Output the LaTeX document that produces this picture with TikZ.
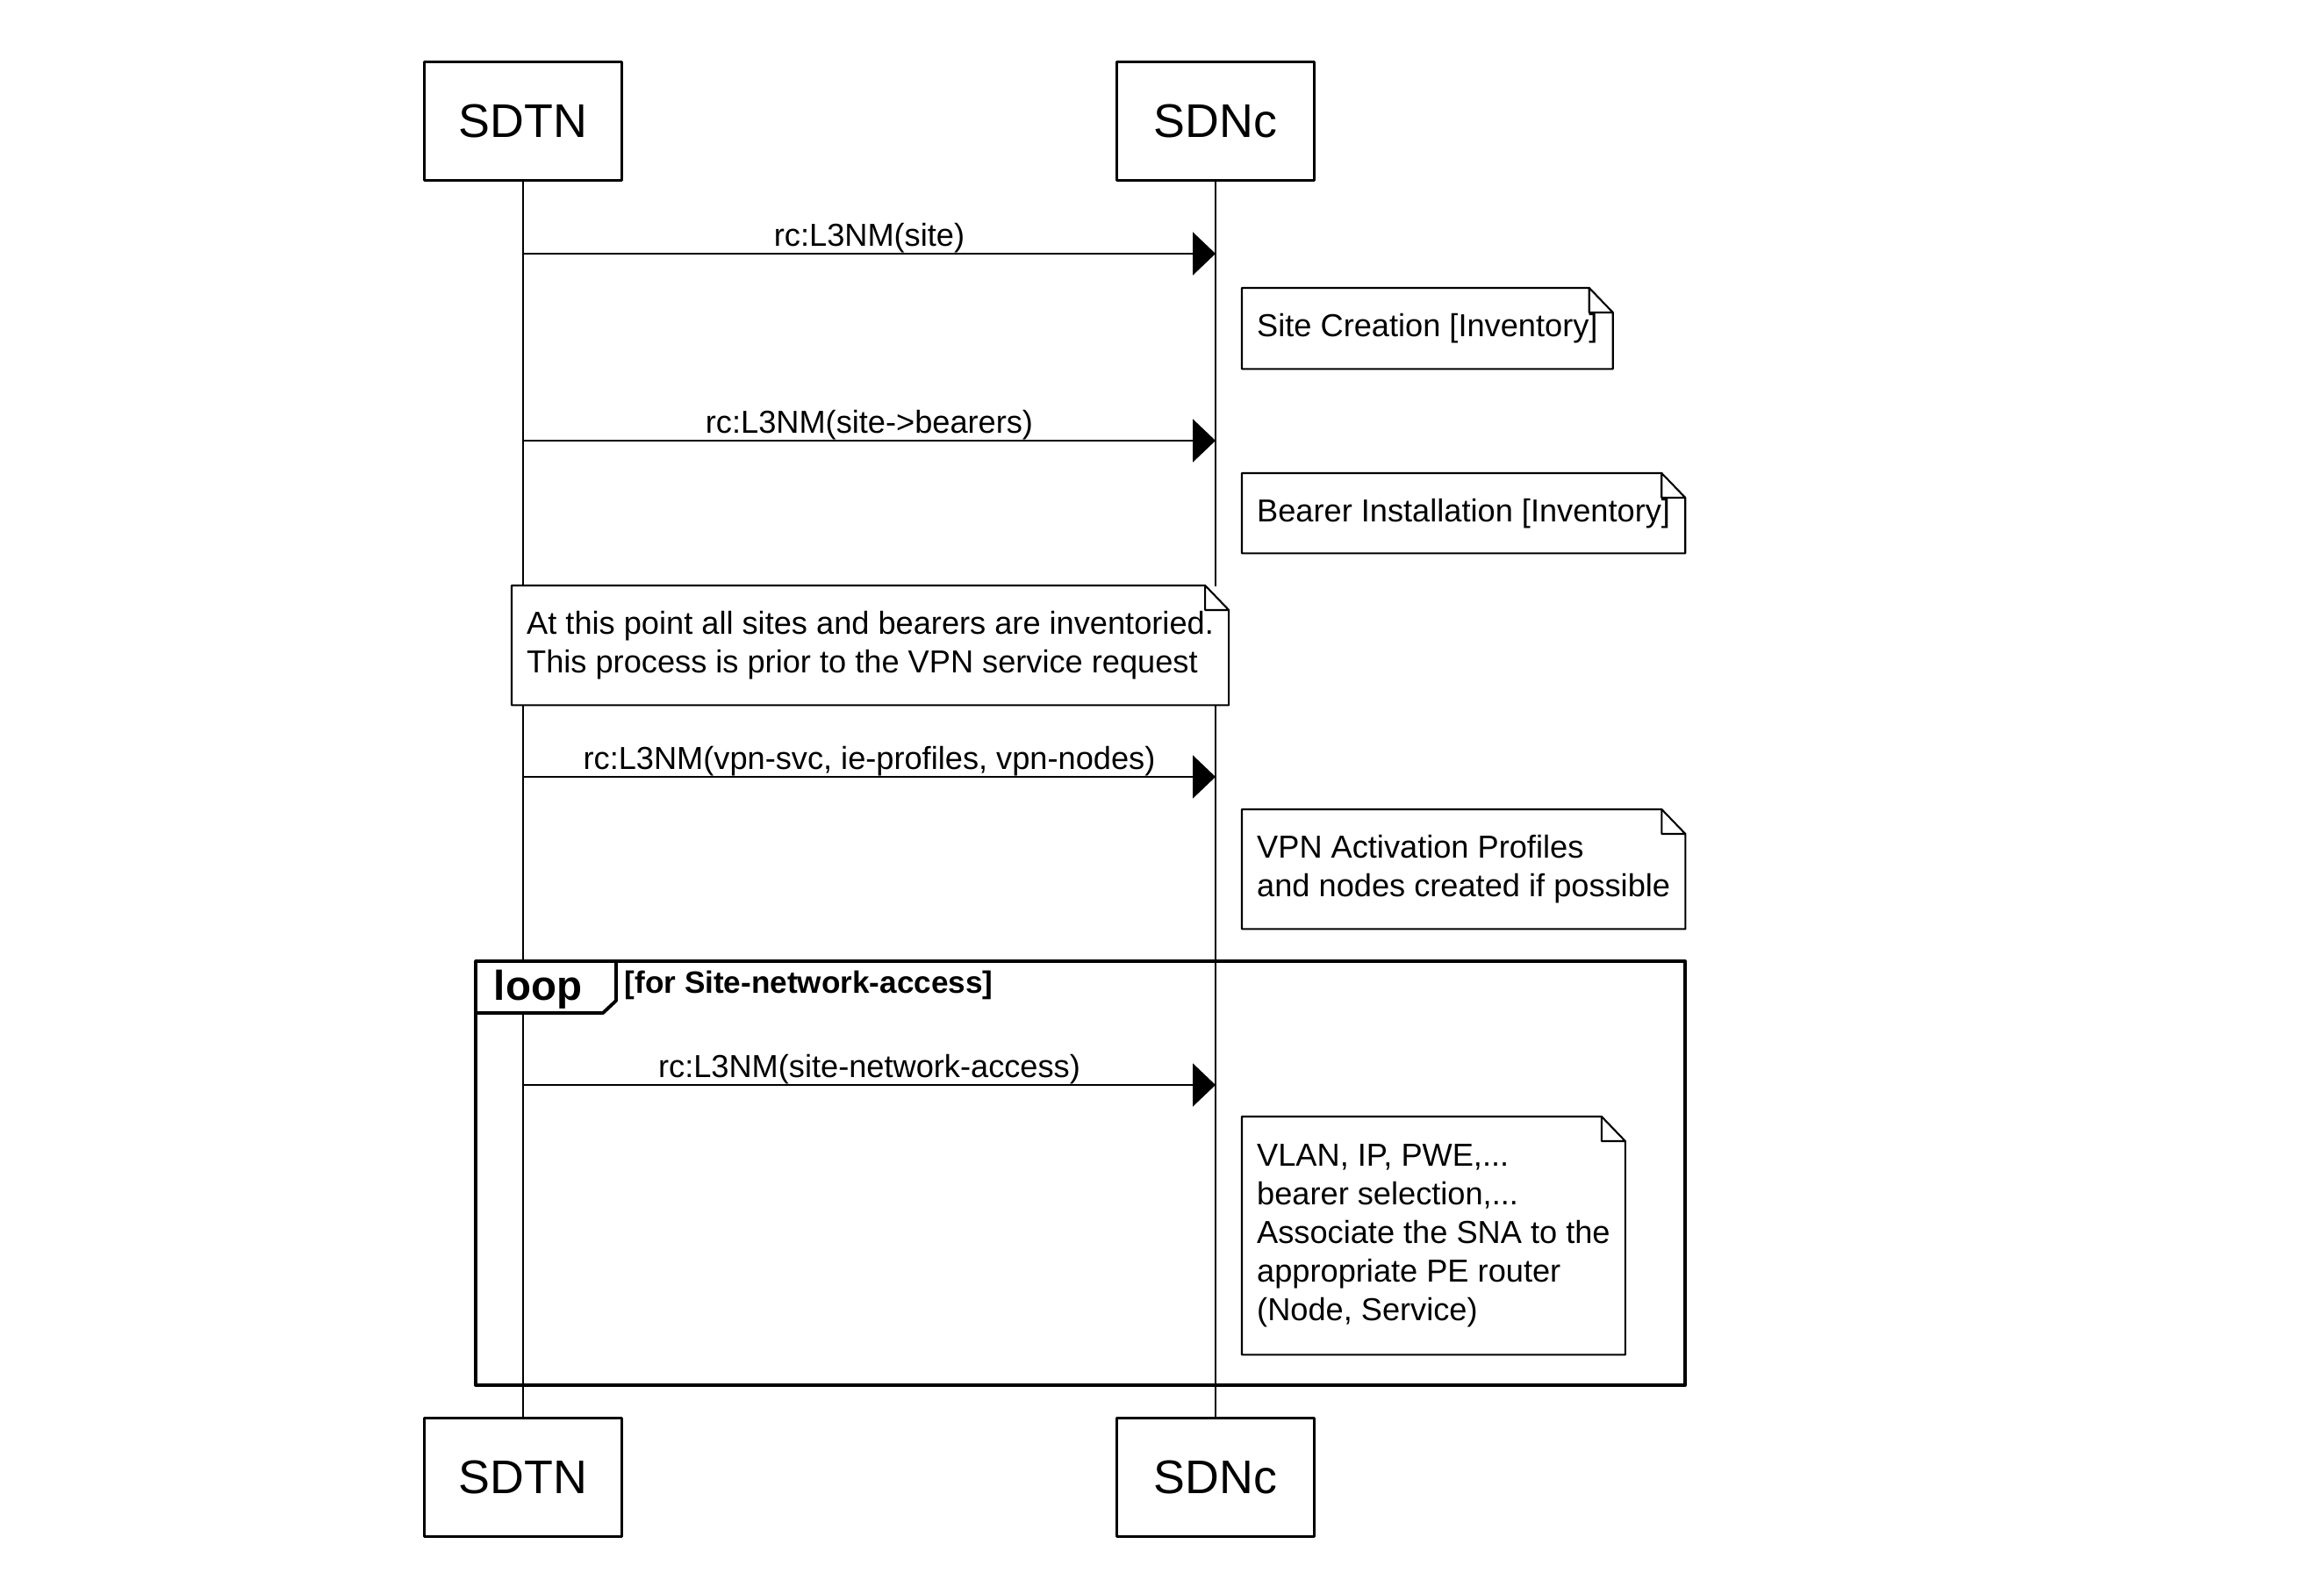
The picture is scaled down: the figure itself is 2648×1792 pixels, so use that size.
\documentclass[tikz,border=0pt]{standalone}
\usepackage{fontspec}
\setmainfont{Liberation Sans}
\usetikzlibrary{arrows.meta,calc}
\tikzset{
 actor/.style={draw,line width=.7pt,fill=white,minimum width=22.5mm,minimum height=13.5mm,inner sep=0pt,font=\fontsize{15.3}{18}\selectfont},
 life/.style={line width=.6pt},
 msg/.style={line width=.6pt,-{Triangle[length=2.6mm,width=4.9mm]}},
 msglabel/.style={above,inner sep=.1pt,font=\fontsize{10.3}{12.5}\selectfont},
 note/.style={anchor=north west,fill=white,align=left,inner xsep=1.65mm,inner ysep=0pt,font=\fontsize{10.3}{12.5}\selectfont},
 frame/.style={line width=1.1pt}
}
\begin{document}
\begin{tikzpicture}[x=.1mm,y=-.1mm,line join=round]
 \useasboundingbox (0,0) rectangle (2648,1792);
 \def\xa{596} \def\xb{1385}
 \def\ytop{138} \def\ybot{1683}
 % participants
 \node[actor] (sdtnTop) at (\xa,\ytop) {SDTN};
 \node[actor] (sdncTop) at (\xb,\ytop) {SDNc};
 \node[actor] (sdtnBot) at (\xa,\ybot) {SDTN};
 \node[actor] (sdncBot) at (\xb,\ybot) {SDNc};
 \draw[life] (sdtnTop.south) -- (sdtnBot.north);
 \draw[life] (sdncTop.south) -- (sdncBot.north);
 % loop frame
 \draw[frame] (542,1095) rectangle (1920,1578);
 \filldraw[frame,fill=white] (542,1095) -- (702,1095) -- (702,1140) -- (687,1154) -- (542,1154) -- cycle;
 \node[font=\bfseries\fontsize{13.5}{16}\selectfont,anchor=base,inner sep=0pt] (loopTag) at (613,1139) {loop};
 \node[font=\bfseries\fontsize{10}{12}\selectfont,anchor=base west,inner sep=0pt] (loopGuard) at (711,1131) {[for Site-network-access]};
 % messages
 \foreach \y/\t [count=\i] in {289/{rc:L3NM(site)},502/{rc:L3NM(site->bearers)},885/{rc:L3NM(vpn-svc, ie-profiles, vpn-nodes)},1236/{rc:L3NM(site-network-access)}}{
  \coordinate (from\i) at (\xa,\y);
  \coordinate (to\i) at (\xb,\y);
  \draw[msg] (from\i) -- node[msglabel] (msg\i) {\t} (to\i);
 }
 % notes
 \node[note,minimum height=9.1mm] (noteSite) at (1415,328) {Site Creation [Inventory]};
 \node[note,minimum height=9mm] (noteBearer) at (1415,539) {Bearer Installation [Inventory]};
 \node[note,minimum height=13.5mm] (noteInv) at (583,667) {At this point all sites and bearers are inventoried.\\This process is prior to the VPN service request};
 \node[note,minimum height=13.5mm] (noteVpn) at (1415,922) {VPN Activation Profiles\\and nodes created if possible};
 \node[note,minimum height=27mm] (noteSna) at (1415,1272) {VLAN, IP, PWE,...\\bearer selection,...\\Associate the SNA to the\\appropriate PE router\\(Node, Service)};
 \foreach \n in {noteSite,noteBearer,noteInv,noteVpn,noteSna}
  \draw[life] (\n.north west) -- ($(\n.north east)+(-27,0)$) -- ($(\n.north east)+(0,28)$) -- (\n.south east) -- (\n.south west) -- cycle
   ($(\n.north east)+(-27,0)$) |- ($(\n.north east)+(0,28)$);
\end{tikzpicture}
\end{document}
